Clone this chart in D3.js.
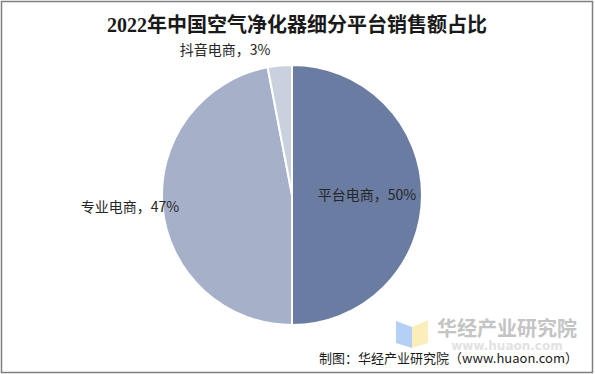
<!DOCTYPE html>
<html>
<head>
<meta charset="utf-8">
<script src="https://cdn.jsdelivr.net/npm/d3@7/dist/d3.min.js"></script>
<style>
  body { margin: 0; background: #fff; }
  svg { display: block; }
</style>
</head>
<body>
<div id="chart"></div>
<script>
const categories = ['平台电商', '专业电商', '抖音电商']
const shares = [50, 47, 3]
const colors = ['#6a7ca1', '#a6b1c9', '#c9d0de']
const titleText = '2022年中国空气净化器细分平台销售额占比'
const sourceText = '制图：华经产业研究院（www.huaon.com）'

const width = 595
const height = 374
const center = { x: 292, y: 195 }
const radius = 130

const svg = d3.select('#chart')
    .append('svg')
    .attr('width', width)
    .attr('height', height)

// frame
svg.append('rect')
    .attr('x', 1.5).attr('y', 1.5)
    .attr('width', width - 4).attr('height', height - 3)
    .attr('fill', '#fff')
    .attr('stroke', '#7f7f7f')
    .attr('stroke-width', 1.5)

svg.append('text')
    .attr('x', 297).attr('y', 32)
    .attr('text-anchor', 'middle')
    .attr('font-family', '"Liberation Serif", "Noto Sans CJK SC", serif')
    .attr('font-weight', 'bold')
    .attr('font-size', 20)
    .attr('fill', '#1a1a1a')
    .text(titleText)

const data = categories.map((c, i) => ({ name: c, value: shares[i], color: colors[i] }))

const pie = d3.pie()
    .sort(null)
    .value(d => d.value)

const arc = d3.arc()
    .innerRadius(0)
    .outerRadius(radius)

const g = svg.append('g')
    .attr('transform', `translate(${center.x},${center.y})`)

g.selectAll('path')
    .data(pie(data))
    .join('path')
    .attr('d', arc)
    .attr('fill', d => d.data.color)
    .attr('stroke', '#fff')
    .attr('stroke-width', 2)

// labels: first inside, others outside
const labelPos = [
    { x: 367, y: 200 },
    { x: 130, y: 212 },
    { x: 225, y: 55 },
]
svg.selectAll('text.lbl')
    .data(data)
    .join('text')
    .attr('class', 'lbl')
    .attr('x', (d, i) => labelPos[i].x)
    .attr('y', (d, i) => labelPos[i].y)
    .attr('text-anchor', 'middle')
    .attr('font-family', '"Noto Sans CJK SC", sans-serif')
    .attr('font-size', 14)
    .attr('fill', '#262626')
    .text(d => `${d.name}，${d.value}%`)

// watermark logo
const logo = svg.append('g')
logo.append('path')
    .attr('d', 'M396,321 L412,327 L412,348 L396,343 Z')
    .attr('fill', '#b5d0f7')
logo.append('path')
    .attr('d', 'M412,327 L428,320 L428,343 L412,348 Z')
    .attr('fill', '#fbeebb')
svg.append('text')
    .attr('x', 507).attr('y', 336)
    .attr('text-anchor', 'middle')
    .attr('font-family', '"Noto Sans CJK SC", sans-serif')
    .attr('font-weight', 'bold')
    .attr('font-size', 20)
    .attr('fill', '#c4c4c4')
    .text('华经产业研究院')
svg.append('text')
    .attr('x', 507).attr('y', 350)
    .attr('text-anchor', 'middle')
    .attr('font-family', '"DejaVu Sans", sans-serif')
    .attr('font-weight', 'bold')
    .attr('font-size', 12)
    .attr('fill', '#e2e2e2')
    .text('www.huaon.com')

svg.append('text')
    .attr('x', 578).attr('y', 363)
    .attr('text-anchor', 'end')
    .attr('font-family', '"Noto Sans CJK SC", sans-serif')
    .attr('font-size', 13)
    .attr('fill', '#1a1a1a')
    .text(sourceText)
</script>
</body>
</html>
